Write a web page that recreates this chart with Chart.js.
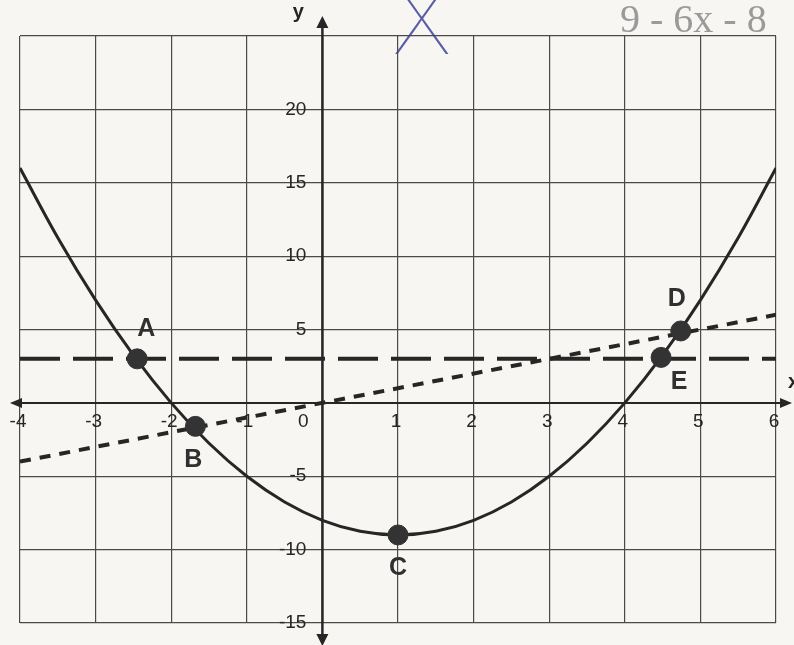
<!DOCTYPE html>
<html>
<head>
<meta charset="utf-8">
<script src="https://cdn.jsdelivr.net/npm/chart.js@4/dist/chart.umd.min.js"></script>
<style>
  html, body { margin: 0; padding: 0; background: #f7f6f3; }
  canvas { display: block; }
</style>
</head>
<body>
<canvas id="chart" width="794" height="645"></canvas>
<script>
// parabola
const curveX = [-4, -3.5, -3, -2.5, -2, -1.5, -1, -0.5, 0, 0.5, 1, 1.5, 2, 2.5, 3, 3.5, 4, 4.5, 5, 5.5, 6];
const curveY = [16, 11.25, 7, 3.25, 0, -2.75, -5, -6.75, -8, -8.75, -9, -8.75, -8, -6.75, -5, -2.75, 0, 3.25, 7, 11.25, 16];
// dashed horizontal line
const dashX = [-4, 6];
const dashY = [3, 3];
// dotted diagonal line
const dotX = [-4, 6];
const dotY = [-4, 6];
// labelled points
const pointNames = ['A', 'B', 'C', 'D', 'E'];
const pointX = [-2.45, -1.68, 1, 4.74, 4.48];
const pointY = [3, -1.6, -9, 4.9, 3.1];
// tick labels
const xTickLabels = [-4, -3, -2, -1, 0, 1, 2, 3, 4, 5, 6];
const yTickLabels = [20, 15, 10, 5, -5, -10, -15];

const ink = '#262626';

const paperPlugin = {
  id: 'paper',
  beforeDraw(chart) {
    const ctx = chart.ctx;
    ctx.save();
    ctx.fillStyle = '#f7f6f3';
    ctx.fillRect(0, 0, chart.width, chart.height);
    // handwritten notes at the top
    ctx.fillStyle = '#9a9a9a';
    ctx.font = '40px "Liberation Serif"';
    ctx.textBaseline = 'alphabetic';
    ctx.fillText('9 - 6x - 8', 620, 32);
    ctx.fillStyle = '#5a5ea6';
    ctx.font = '100 96px Inter';
    ctx.fillText('X', 392, 54);
    ctx.restore();
  }
};

const axesPlugin = {
  id: 'axes',
  beforeDatasetsDraw(chart) {
    const ctx = chart.ctx;
    const xs = chart.scales.x, ys = chart.scales.y;
    const x0 = xs.getPixelForValue(0), y0 = ys.getPixelForValue(0);
    const left = xs.getPixelForValue(-4), right = xs.getPixelForValue(6);
    const top = ys.getPixelForValue(25), bottom = ys.getPixelForValue(-15);
    ctx.save();
    ctx.strokeStyle = ink;
    ctx.fillStyle = ink;
    ctx.lineWidth = 2;
    // x axis
    ctx.beginPath();
    ctx.moveTo(left - 8, y0);
    ctx.lineTo(right + 12, y0);
    ctx.stroke();
    ctx.beginPath();
    ctx.moveTo(left - 10, y0); ctx.lineTo(left + 2, y0 - 5); ctx.lineTo(left + 2, y0 + 5); ctx.closePath(); ctx.fill();
    ctx.beginPath();
    ctx.moveTo(right + 16, y0); ctx.lineTo(right + 4, y0 - 5); ctx.lineTo(right + 4, y0 + 5); ctx.closePath(); ctx.fill();
    // y axis
    ctx.lineWidth = 2.5;
    ctx.beginPath();
    ctx.moveTo(x0, top - 14);
    ctx.lineTo(x0, bottom + 18);
    ctx.stroke();
    ctx.beginPath();
    ctx.moveTo(x0, top - 20); ctx.lineTo(x0 - 6, top - 8); ctx.lineTo(x0 + 6, top - 8); ctx.closePath(); ctx.fill();
    ctx.beginPath();
    ctx.moveTo(x0, bottom + 23); ctx.lineTo(x0 - 6, bottom + 11); ctx.lineTo(x0 + 6, bottom + 11); ctx.closePath(); ctx.fill();

    // tick labels
    ctx.font = '19px "Liberation Sans"';
    ctx.textAlign = 'center';
    ctx.textBaseline = 'middle';
    xTickLabels.forEach(v => {
      let px = xs.getPixelForValue(v) - 2;
      if (v === 0) px = x0 - 19;
      ctx.fillText(String(v), px, y0 + 19);
    });
    ctx.textAlign = 'right';
    yTickLabels.forEach(v => {
      ctx.fillText(String(v), x0 - 16, ys.getPixelForValue(v));
    });
    // axis names
    ctx.textAlign = 'center';
    ctx.font = 'bold 20px "Liberation Sans"';
    ctx.fillText('y', x0 - 24, 12);
    ctx.textAlign = 'left';
    ctx.fillText('x', right + 12, y0 - 20);
    ctx.restore();
  },
  afterDatasetsDraw(chart) {
    const ctx = chart.ctx;
    const xs = chart.scales.x, ys = chart.scales.y;
    const offsets = { A: [9, -30], B: [-2, 34], C: [0, 33], D: [-4, -32], E: [18, 25] };
    ctx.save();
    ctx.fillStyle = '#303030';
    ctx.font = 'bold 25px "Liberation Sans"';
    ctx.textAlign = 'center';
    ctx.textBaseline = 'middle';
    pointNames.forEach((n, i) => {
      const px = xs.getPixelForValue(pointX[i]) + offsets[n][0];
      const py = ys.getPixelForValue(pointY[i]) + offsets[n][1];
      ctx.fillText(n, px, py);
    });
    ctx.restore();
  }
};

const toXY = (xsArr, ysArr) => xsArr.map((x, i) => ({ x: x, y: ysArr[i] }));

new Chart(document.getElementById('chart').getContext('2d'), {
  type: 'scatter',
  data: {
    datasets: [
      {
        label: 'parabola',
        data: toXY(curveX, curveY),
        showLine: true,
        borderColor: ink,
        borderWidth: 3,
        pointRadius: 0,
        tension: 0.4,
        order: 3
      },
      {
        label: 'y = 3',
        data: toXY(dashX, dashY),
        showLine: true,
        borderColor: ink,
        borderWidth: 4,
        borderDash: [40, 13],
        pointRadius: 0,
        order: 2
      },
      {
        label: 'y = x',
        data: toXY(dotX, dotY),
        showLine: true,
        borderColor: ink,
        borderWidth: 4,
        borderDash: [11, 9],
        pointRadius: 0,
        order: 2
      },
      {
        label: 'points',
        data: toXY(pointX, pointY),
        showLine: false,
        pointRadius: 10,
        pointBackgroundColor: '#333333',
        pointBorderColor: '#333333',
        order: 1
      }
    ]
  },
  options: {
    responsive: false,
    animation: false,
    layout: { padding: { left: 20, right: 18, top: 36, bottom: 22 } },
    plugins: {
      legend: { display: false },
      tooltip: { enabled: false }
    },
    scales: {
      x: {
        type: 'linear',
        min: -4,
        max: 6,
        ticks: { display: false, stepSize: 1 },
        border: { display: false },
        grid: { color: '#4a4a4a', lineWidth: 1.2, drawTicks: false }
      },
      y: {
        type: 'linear',
        min: -15,
        max: 25,
        ticks: { display: false, stepSize: 5 },
        border: { display: false },
        grid: { color: '#4a4a4a', lineWidth: 1.2, drawTicks: false }
      }
    }
  },
  plugins: [paperPlugin, axesPlugin]
});
</script>
</body>
</html>
